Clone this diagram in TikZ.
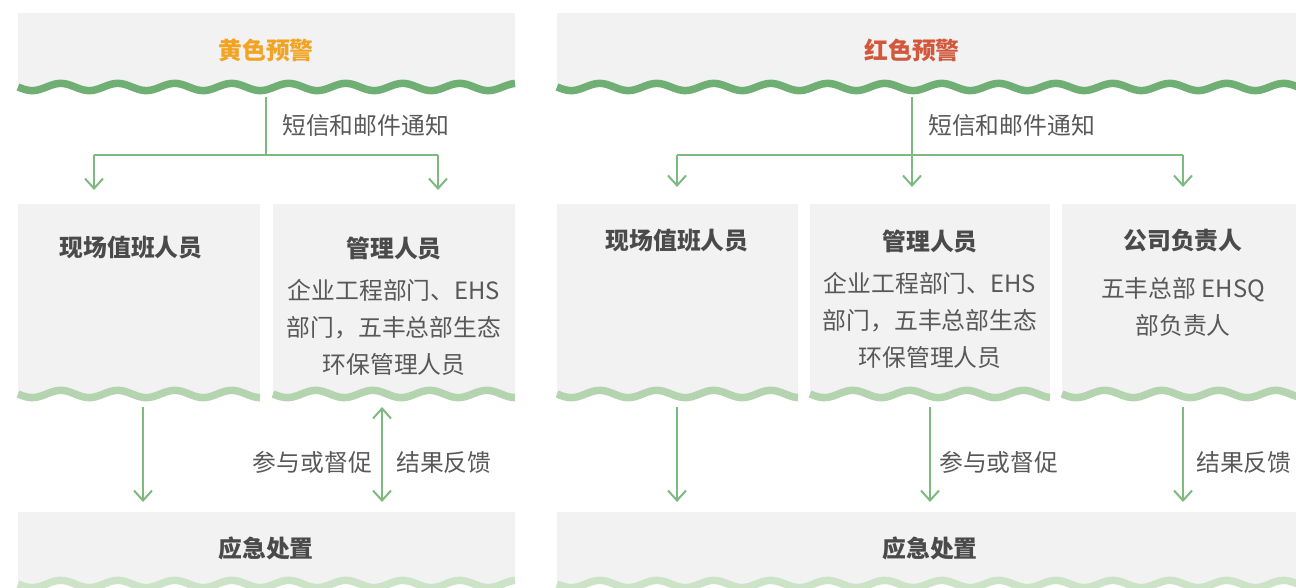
\documentclass[tikz,border=0pt]{standalone}
\usepackage{fontspec}
\setmainfont{Noto Sans CJK SC}
\usetikzlibrary{arrows.meta}
\definecolor{boxgray}{HTML}{F1F2F1}
\definecolor{wavedark}{HTML}{6FAF74}
\definecolor{wavemid}{HTML}{B3D4AE}
\definecolor{wavelight}{HTML}{CCE3C8}
\definecolor{arrgreen}{HTML}{7DB980}
\definecolor{titlegray}{HTML}{4A4A4A}
\definecolor{bodygray}{HTML}{585858}
\definecolor{warnyellow}{HTML}{F2A322}
\definecolor{warnred}{HTML}{D2573B}
\newcommand\wavyline[4]{%
  \draw[line width=7.5pt,#4] plot[domain=#1:#2,samples=240] (\x,{#3+3.6*sin(((\x-#1)/57)*360)});}
\tikzset{
  box/.style={fill=boxgray,draw=none,inner sep=0pt,anchor=north west},
  ttl/.style={font=\fontsize{23.8}{28}\selectfont\bfseries,text=titlegray,inner sep=0pt},
  txt/.style={font=\fontsize{23.8}{37}\selectfont,text=bodygray,align=center,inner sep=0pt},
  lbl/.style={font=\fontsize{23.8}{28}\selectfont,text=bodygray,inner sep=0pt},
  link/.style={draw=arrgreen,line width=2pt},
  conn/.style={link,-{Straight Barb[length=10pt,width=18pt]}},
  dconn/.style={link,{Straight Barb[length=10pt,width=18pt]}-{Straight Barb[length=10pt,width=18pt]}}
}
\begin{document}
\begin{tikzpicture}[x=1pt,y=-1pt]
\useasboundingbox (0,0) rectangle (1296,588);
\clip (0,0) rectangle (1296,588);
% ---------------- left panel (yellow) ----------------
\node[box,minimum width=497pt,minimum height=74pt] (yTop) at (18,13) {};
\wavyline{18}{515}{87}{wavedark}
\node[ttl,text=warnyellow] (yTitle) at (266,50) {黄色预警};
\node[box,minimum width=242pt,minimum height=190pt] (yDuty) at (18,204) {};
\node[box,minimum width=242pt,minimum height=190pt] (yMgr) at (273,204) {};
\wavyline{18}{260}{394}{wavemid}
\wavyline{273}{515}{394}{wavemid}
\node[ttl] (yDutyT) at (131,248) {现场值班人员};
\node[ttl] (yMgrT) at (394,248) {管理人员};
\node[txt] (yMgrD) at (394,327) {企业工程部门、EHS\\部门，五丰总部生态\\环保管理人员};
\node[box,minimum width=497pt,minimum height=72pt] (yBot) at (18,512) {};
\wavyline{18}{515}{584}{wavelight}
\node[ttl] (yBotT) at (266,548) {应急处置};
% connectors
\coordinate (yS) at (266,97);
\coordinate (yHub) at (266,155);
\coordinate (yL) at (94,155);
\coordinate (yR) at (438,155);
\coordinate (yLe) at (94,190);
\coordinate (yRe) at (438,190);
\draw[link] (yS) -- (yHub);
\draw[link] (yL) -- (yR);
\draw[conn] (yL) -- (yLe);
\draw[conn] (yR) -- (yRe);
\node[lbl,anchor=west] (yNote) at (282,125) {短信和邮件通知};
\coordinate (yA1) at (143,407);
\coordinate (yA2) at (143,502);
\coordinate (yB1) at (382,407);
\coordinate (yB2) at (382,502);
\draw[conn] (yA1) -- (yA2);
\draw[dconn] (yB1) -- (yB2);
\node[lbl,anchor=east] (yJoin) at (372,462) {参与或督促};
\node[lbl,anchor=west] (yFeed) at (396,462) {结果反馈};
% ---------------- right panel (red) ----------------
\node[box,minimum width=746pt,minimum height=74pt] (rTop) at (557,13) {};
\wavyline{557}{1303}{87}{wavedark}
\node[ttl,text=warnred] (rTitle) at (912,50) {红色预警};
\node[box,minimum width=241pt,minimum height=190pt] (rDuty) at (557,204) {};
\node[box,minimum width=240pt,minimum height=190pt] (rMgr) at (810,204) {};
\node[box,minimum width=241pt,minimum height=190pt] (rHead) at (1062,204) {};
\wavyline{557}{798}{394}{wavemid}
\wavyline{810}{1050}{394}{wavemid}
\wavyline{1062}{1303}{394}{wavemid}
\node[ttl] (rDutyT) at (677,241) {现场值班人员};
\node[ttl] (rMgrT) at (930,241) {管理人员};
\node[txt] (rMgrD) at (930,320) {企业工程部门、EHS\\部门，五丰总部生态\\环保管理人员};
\node[ttl] (rHeadT) at (1183,241) {公司负责人};
\node[txt] (rHeadD) at (1183,307) {五丰总部 EHSQ\\部负责人};
\node[box,minimum width=746pt,minimum height=72pt] (rBot) at (557,512) {};
\wavyline{557}{1303}{584}{wavelight}
\node[ttl] (rBotT) at (930,548) {应急处置};
% connectors
\coordinate (rS) at (912,97);
\coordinate (rHub) at (912,155);
\coordinate (rL) at (677,155);
\coordinate (rR) at (1183,155);
\coordinate (rLe) at (677,187);
\coordinate (rMe) at (912,187);
\coordinate (rRe) at (1183,187);
\draw[link] (rL) -- (rR);
\draw[conn] (rS) -- (rMe);
\draw[conn] (rL) -- (rLe);
\draw[conn] (rR) -- (rRe);
\node[lbl,anchor=west] (rNote) at (928,125) {短信和邮件通知};
\coordinate (rA1) at (677,407);
\coordinate (rA2) at (677,502);
\coordinate (rB1) at (930,407);
\coordinate (rB2) at (930,502);
\coordinate (rC1) at (1183,407);
\coordinate (rC2) at (1183,502);
\draw[conn] (rA1) -- (rA2);
\draw[conn] (rB1) -- (rB2);
\draw[conn] (rC1) -- (rC2);
\node[lbl,anchor=west] (rJoin) at (939,462) {参与或督促};
\node[lbl,anchor=west] (rFeed) at (1196,462) {结果反馈};
\end{tikzpicture}
\end{document}
